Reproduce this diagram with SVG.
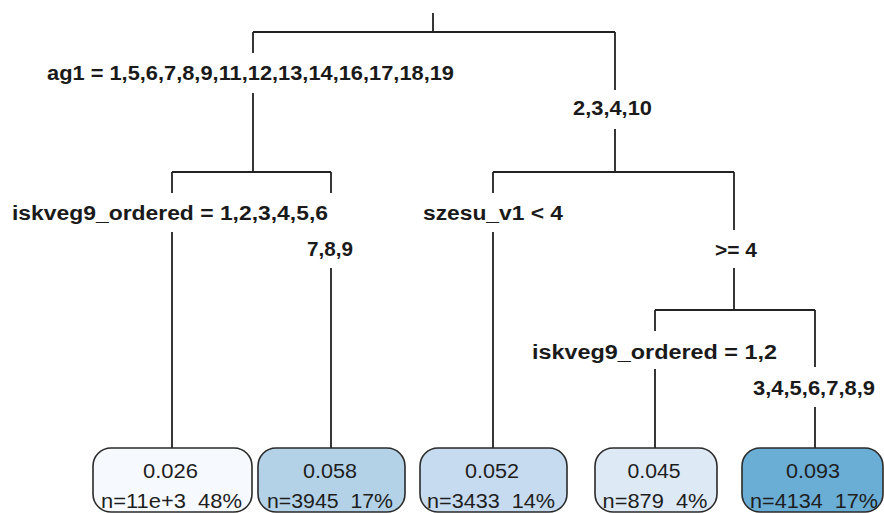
<svg xmlns="http://www.w3.org/2000/svg" width="884" height="513" viewBox="0 0 884 513">
<style>
.bg{fill:#ffffff}
.edge{fill:none;stroke:#222;stroke-width:1.8}
.split{font-family:"Liberation Sans",Arial,sans-serif;font-weight:bold;font-size:20px;fill:#1a1a1a;text-anchor:middle}
.leaf rect{stroke:#2a2a2a;stroke-width:1.6}
.leaf text{font-family:"Liberation Sans",Arial,sans-serif;font-size:20.5px;fill:#1e1e1e;text-anchor:middle;white-space:pre}
</style>
<rect class="bg" x="0" y="0" width="884" height="513"/>
<g id="connectors">
<path class="edge" d="M433,13V32M253,32H615M253,32V53M253,93V172M615,32V90M615,129V172"/>
<path class="edge" d="M172,172H331M172,172V193M172,232V448M331,172V193M331,268V448"/>
<path class="edge" d="M493,172H734M493,172V193M493,232V448M734,172V230M734,268V310"/>
<path class="edge" d="M655,310H815M655,310V331M655,369V448M815,310V367M815,407V448"/>
</g>
<g id="split-ag1">
<text class="split" x="250.5" y="80" textLength="407" lengthAdjust="spacingAndGlyphs">ag1 = 1,5,6,7,8,9,11,12,13,14,16,17,18,19</text>
<text class="split" x="612.5" y="115" textLength="79" lengthAdjust="spacingAndGlyphs">2,3,4,10</text>
</g>
<g id="split-iskveg9-left">
<text class="split" x="170" y="220" textLength="316" lengthAdjust="spacingAndGlyphs">iskveg9_ordered = 1,2,3,4,5,6</text>
<text class="split" x="330" y="256" textLength="46" lengthAdjust="spacingAndGlyphs">7,8,9</text>
</g>
<g id="split-szesu">
<text class="split" x="493" y="220" textLength="140" lengthAdjust="spacingAndGlyphs">szesu_v1 &lt; 4</text>
<text class="split" x="736" y="257" textLength="42" lengthAdjust="spacingAndGlyphs">&gt;= 4</text>
</g>
<g id="split-iskveg9-right">
<text class="split" x="654.5" y="359" textLength="245" lengthAdjust="spacingAndGlyphs">iskveg9_ordered = 1,2</text>
<text class="split" x="814" y="395" textLength="122" lengthAdjust="spacingAndGlyphs">3,4,5,6,7,8,9</text>
</g>
<g id="leaf1" class="leaf">
<rect x="93" y="448" width="159" height="64" rx="18" ry="18" fill="#F6FAFE"/>
<text x="170.5" y="478" textLength="55" lengthAdjust="spacingAndGlyphs">0.026</text>
<text x="171.5" y="508" xml:space="preserve" textLength="141" lengthAdjust="spacingAndGlyphs">n=11e+3  48%</text>
</g>
<g id="leaf2" class="leaf">
<rect x="258" y="448" width="147" height="64" rx="18" ry="18" fill="#B3D2E8"/>
<text x="330" y="478" textLength="54" lengthAdjust="spacingAndGlyphs">0.058</text>
<text x="330" y="508" xml:space="preserve" textLength="126" lengthAdjust="spacingAndGlyphs">n=3945  17%</text>
</g>
<g id="leaf3" class="leaf">
<rect x="420" y="448" width="147" height="64" rx="18" ry="18" fill="#C6DBEF"/>
<text x="492" y="478" textLength="54" lengthAdjust="spacingAndGlyphs">0.052</text>
<text x="491" y="508" xml:space="preserve" textLength="128" lengthAdjust="spacingAndGlyphs">n=3433  14%</text>
</g>
<g id="leaf4" class="leaf">
<rect x="595" y="448" width="122" height="64" rx="18" ry="18" fill="#DDEAF6"/>
<text x="654" y="478" textLength="53" lengthAdjust="spacingAndGlyphs">0.045</text>
<text x="655" y="508" xml:space="preserve" textLength="105" lengthAdjust="spacingAndGlyphs">n=879  4%</text>
</g>
<g id="leaf5" class="leaf">
<rect x="742" y="448" width="141" height="64" rx="18" ry="18" fill="#6AADD5"/>
<text x="813" y="478" textLength="54" lengthAdjust="spacingAndGlyphs">0.093</text>
<text x="814" y="508" xml:space="preserve" textLength="128" lengthAdjust="spacingAndGlyphs">n=4134  17%</text>
</g>
</svg>
